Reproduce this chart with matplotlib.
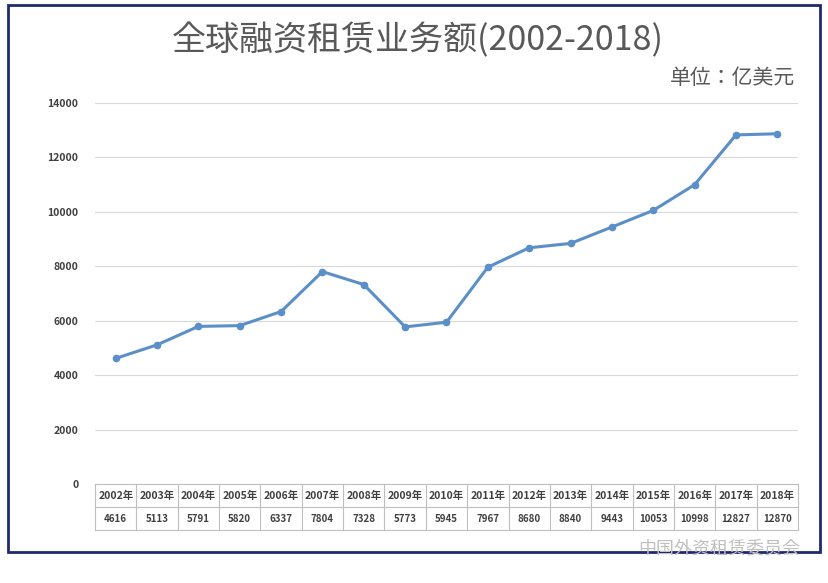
import matplotlib.pyplot as plt
from matplotlib import font_manager
from matplotlib.patches import Rectangle

cjk = sorted({f.name for f in font_manager.fontManager.ttflist
              if 'CJK' in f.name and 'Sans' in f.name})
plt.rcParams['font.family'] = cjk + ['DejaVu Sans']

years = ['2002年', '2003年', '2004年', '2005年', '2006年', '2007年', '2008年', '2009年', '2010年',
         '2011年', '2012年', '2013年', '2014年', '2015年', '2016年', '2017年', '2018年']
values = [4616, 5113, 5791, 5820, 6337, 7804, 7328, 5773, 5945,
          7967, 8680, 8840, 9443, 10053, 10998, 12827, 12870]

W, H = 829, 583
fig = plt.figure(figsize=(W / 100, H / 100), dpi=100)
fig.patches.append(Rectangle((8 / W, 1 - 552 / H), 812 / W, 547 / H, transform=fig.transFigure,
                             fill=False, edgecolor='#1f2a6e', linewidth=2))

ax = fig.add_axes([95 / W, 1 - 484 / H, 703 / W, 381 / H])
x = list(range(len(years)))
ax.plot(x, values, color='#5b8fc7', linewidth=2.2, marker='o', markersize=4.5)
ax.set_xlim(-0.5, len(years) - 0.5)
ax.set_ylim(0, 14000)
ax.set_yticks(range(0, 14001, 2000))
ax.tick_params(axis='y', length=0, labelsize=7.5, labelcolor='#404040', pad=12)
ax.set_xticks([])
ax.grid(True, axis='y', color='#d9d9d9', linewidth=0.8)
ax.set_axisbelow(True)
for s in ['top', 'right', 'left']:
    ax.spines[s].set_visible(False)
ax.spines['bottom'].set_color('#bfbfbf')
for lab in ax.get_yticklabels():
    lab.set_fontweight('bold')

# data table below the axis
row_h = 23 / 381
tr = ax.get_xaxis_transform()
for i in range(len(years) + 1):
    ax.plot([i - 0.5, i - 0.5], [0, -2 * row_h], transform=tr, color='#bfbfbf', lw=0.8, clip_on=False)
for k in (1, 2):
    ax.plot([-0.5, len(years) - 0.5], [-k * row_h] * 2, transform=tr, color='#bfbfbf', lw=0.8, clip_on=False)
for i, (y, v) in enumerate(zip(years, values)):
    ax.text(i, -0.5 * row_h, y, transform=tr, ha='center', va='center', fontsize=7.5,
            fontweight='bold', color='#404040')
    ax.text(i, -1.5 * row_h, str(v), transform=tr, ha='center', va='center', fontsize=7,
            fontweight='bold', color='#404040')

fig.text(418 / W, 1 - 41 / H, '全球融资租赁业务额(2002-2018)', ha='center', va='center',
         fontsize=24.5, color='#595959')
fig.text(795 / W, 1 - 78 / H, '单位：亿美元', ha='right', va='center', fontsize=15, color='#595959')
fig.text(800 / W, 1 - 548 / H, '中国外资租赁委员会', ha='right', va='center', fontsize=13,
         color='#c0c0c0')

fig.savefig('out.png', dpi=100)
